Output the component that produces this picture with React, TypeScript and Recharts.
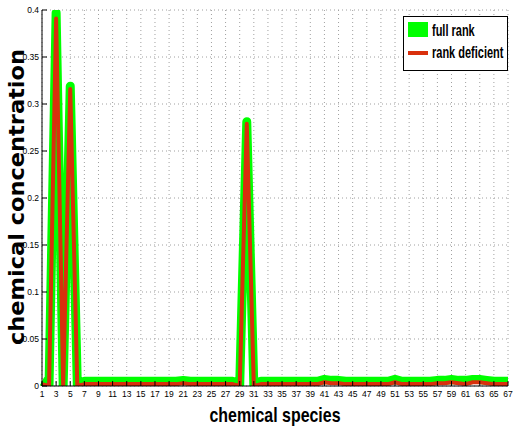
import React from "react";
import { LineChart, Line, XAxis, YAxis, CartesianGrid, Legend } from "recharts";

const SPECIES = Array.from({ length: 67 }, (_, i) => i + 1);

const FULL_RANK = [
  0.005, 0.001, 0.397, 0.001, 0.319, 0.001, 0.005, 0.005, 0.005, 0.005,
  0.005, 0.005, 0.005, 0.005, 0.005, 0.005, 0.005, 0.005, 0.005, 0.005,
  0.006, 0.005, 0.005, 0.005, 0.005, 0.005, 0.005, 0.005, 0.001, 0.281,
  0.001, 0.005, 0.005, 0.005, 0.005, 0.005, 0.005, 0.005, 0.005, 0.005,
  0.007, 0.006, 0.006, 0.005, 0.005, 0.005, 0.005, 0.005, 0.005, 0.005,
  0.007, 0.005, 0.005, 0.005, 0.005, 0.005, 0.006, 0.006, 0.007, 0.006,
  0.006, 0.007, 0.007, 0.006, 0.005, 0.005, 0.005,
];

const RANK_DEFICIENT = [
  0.002, 0.000, 0.391, 0.000, 0.316, 0.000, 0.002, 0.002, 0.002, 0.002,
  0.002, 0.002, 0.002, 0.002, 0.002, 0.002, 0.002, 0.002, 0.002, 0.002,
  0.003, 0.002, 0.002, 0.002, 0.002, 0.002, 0.002, 0.002, 0.000, 0.279,
  0.000, 0.002, 0.002, 0.002, 0.002, 0.002, 0.002, 0.002, 0.002, 0.002,
  0.004, 0.003, 0.003, 0.002, 0.002, 0.002, 0.002, 0.002, 0.002, 0.002,
  0.004, 0.002, 0.002, 0.002, 0.002, 0.002, 0.003, 0.003, 0.004, 0.003,
  0.002, 0.004, 0.004, 0.003, 0.002, 0.002, 0.002,
];

const X_TICKS = [
  1, 3, 5, 7, 9, 11, 13, 15, 17, 19, 21, 23, 25, 27, 29, 31, 33,
  35, 37, 39, 41, 43, 45, 47, 49, 51, 53, 55, 57, 59, 61, 63, 65, 67,
];
const Y_TICKS = [0, 0.05, 0.1, 0.15, 0.2, 0.25, 0.3, 0.35, 0.4];

const GREEN = "#00ff00";
const RED = "#d9300d";
const NARROW = "'Liberation Sans Narrow', 'Arial Narrow', 'Liberation Sans', Arial, sans-serif";
const SANS = "'Liberation Sans', Arial, sans-serif";

const data = SPECIES.map((s, i) => ({ species: s, full: FULL_RANK[i], deficient: RANK_DEFICIENT[i] }));

const BottomTick = ({ x, y, payload }: any) => (
  <g>
    <line x1={x} x2={x} y1={y - 11} y2={y - 16} stroke="#000" />
    <text x={x} y={y} textAnchor="middle" fontSize={8.5} fontFamily={NARROW} fill="#000">
      {payload.value}
    </text>
  </g>
);

const TopTick = ({ x, y }: any) => (
  <line x1={x} x2={x} y1={y} y2={y + 5} stroke="#000" />
);

const LeftTick = ({ x, y, payload }: any) => (
  <g>
    <line x1={x + 2} x2={x + 7} y1={y} y2={y} stroke="#000" />
    <text x={x - 1} y={y + 3} textAnchor="end" fontSize={8.5} fontFamily={NARROW} fill="#000">
      {payload.value}
    </text>
  </g>
);

const RightTick = ({ x, y }: any) => (
  <line x1={x} x2={x - 5} y1={y} y2={y} stroke="#000" />
);

const YTitle = ({ viewBox }: any) => {
  const cy = viewBox.y + viewBox.height / 2 - 1;
  return (
    <text x={24} y={cy} transform={`rotate(-90, 24, ${cy})`} textAnchor="middle"
      fontFamily="'DejaVu Sans', sans-serif" fontWeight="bold" fontSize={21}
      textLength={296} lengthAdjust="spacingAndGlyphs" fill="#000">
      chemical concentration
    </text>
  );
};

const XTitle = ({ viewBox }: any) => {
  const cx = viewBox.x + viewBox.width / 2;
  return (
    <text x={cx} y={422} textAnchor="middle" fontFamily={NARROW} fontWeight="bold"
      fontSize={21} textLength={131} lengthAdjust="spacingAndGlyphs" fill="#000">
      chemical species
    </text>
  );
};

const LegendBox = () => (
  <svg width={106} height={56} style={{ display: "block" }}>
    <rect x={0.5} y={0.5} width={104} height={54} fill="#fff" stroke="#000" />
    <rect x={5} y={6} width={20} height={15} fill={GREEN} />
    <text transform="translate(29, 20) scale(1, 1.55)" fontFamily={SANS} fontWeight="bold"
      fontSize={11} fill="#000">full rank</text>
    <rect x={5} y={35} width={20} height={4} fill={RED} />
    <text transform="translate(29, 41.5) scale(1, 1.55)" fontFamily={SANS} fontWeight="bold"
      fontSize={11} fill="#000">rank deficient</text>
  </svg>
);

export default function App() {
  return (
    <div style={{ position: "absolute", left: 0, top: 0, background: "#fff" }}>
      <LineChart width={514} height={427} data={data} margin={{ top: 10, right: 6, bottom: 0, left: 0 }}>
        <CartesianGrid stroke="#a0a0a0" strokeDasharray="1 3" />
        <XAxis dataKey="species" type="number" domain={[1, 67]} ticks={X_TICKS} interval={0}
          height={41} tickSize={0} tickMargin={11} tick={<BottomTick />} axisLine={{ stroke: "#000" }}
          label={{ content: <XTitle /> }} />
        <XAxis xAxisId="top" orientation="top" type="number" domain={[1, 67]} ticks={X_TICKS}
          interval={0} height={0} tickSize={0} tickMargin={0} tick={<TopTick />} axisLine={{ stroke: "#000" }} />
        <YAxis type="number" domain={[0, 0.4]} ticks={Y_TICKS} interval={0} allowDataOverflow
          width={42} tickSize={0} tickMargin={2} tick={<LeftTick />} axisLine={{ stroke: "#000" }}
          label={{ content: <YTitle /> }} />
        <YAxis yAxisId="right" orientation="right" type="number" domain={[0, 0.4]} ticks={Y_TICKS}
          interval={0} width={0} tickSize={0} tickMargin={0} tick={<RightTick />} axisLine={{ stroke: "#000" }} />
        <Legend layout="horizontal" verticalAlign="middle" align="center" content={<LegendBox />}
          wrapperStyle={{ position: "absolute", left: 403, top: 16, width: 106, height: 56 }} />
        <Line dataKey="full" name="full rank" stroke={GREEN} strokeWidth={9} dot={false}
          strokeLinejoin="round" isAnimationActive={false} />
        <Line dataKey="deficient" name="rank deficient" stroke={RED} strokeWidth={4} dot={false}
          strokeLinejoin="round" isAnimationActive={false} />
      </LineChart>
    </div>
  );
}
